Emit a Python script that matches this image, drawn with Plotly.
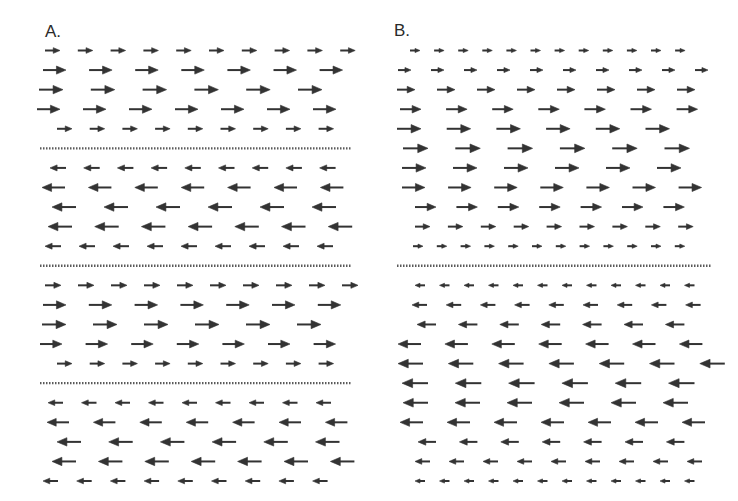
import plotly.graph_objects as go

# panel A: four channels of 5 rows, dotted walls between them
a_rows = [1, 2, 3, 4, 5, 7, 8, 9, 10, 11, 13, 14, 15, 16, 17, 19, 20, 21, 22, 23]
a_speed = [15, 23, 24, 23, 15, -16, -23, -24, -24, -16,
           16, 23, 24, 22, 15, -15, -22, -24, -24, -15]
a_count = [10, 7, 6, 7, 9, 9, 7, 6, 7, 9, 10, 7, 6, 7, 9, 9, 7, 6, 7, 9]
a_first = [45, 43, 39, 37, 57, 50, 42, 52, 48, 45,
           45, 43, 42, 40, 57, 48, 47, 57, 52, 43]
a_step = [32.8, 46.1, 51.8, 46.0, 32.7, 33.7, 46.4, 52.0, 46.7, 34.0,
          33.0, 45.8, 51.0, 45.6, 32.7, 33.5, 46.4, 51.7, 46.4, 33.7]
a_walls = [6, 12, 18]

# panel B: two channels of 11 rows
b_rows = [1, 2, 3, 4, 5, 6, 7, 8, 9, 10, 11,
          13, 14, 15, 16, 17, 18, 19, 20, 21, 22, 23]
b_speed = [10, 13, 18, 21, 24, 25, 24, 23, 21, 15, 10,
           -10, -15, -19, -23, -25, -26, -25, -23, -18, -15, -10]
b_count = [12, 10, 8, 7, 6, 6, 6, 7, 7, 9, 12,
           12, 9, 7, 7, 7, 6, 6, 7, 7, 9, 12]
b_first = [410, 398, 397, 400, 397, 403, 402, 402, 415, 415, 413,
           415, 412, 417, 398, 398, 402, 403, 400, 418, 415, 415]
b_step = [24.1, 33.0, 40.0, 46.1, 49.7, 52.3, 51.0, 46.1, 41.4, 32.9, 23.8,
          24.5, 34.2, 41.4, 46.9, 50.3, 53.3, 52.0, 47.0, 41.4, 34.0, 24.5]
b_walls = [12]

a_span = [40, 351]
b_span = [397, 712]

ink = "#333333"
row_px = 19.57  # pixels per row, used to keep arrowheads in proportion
fig = go.Figure()


def add_field(rows, speed, count, first, step):
    sx, sy = [], []
    px, py = [], []
    for r, u, n, x0, dx in zip(rows, speed, count, first, step):
        L = abs(u)
        hl = 0.35 * L + 1.5
        hw = (0.15 * L + 0.6) / row_px
        for k in range(n):
            left = x0 + k * dx
            if u > 0:
                tip, base = left + L, left + L - hl
                sx += [left, base + 1, None]
            else:
                tip, base = left, left + hl
                sx += [base - 1, left + L, None]
            sy += [r, r, None]
            px += [tip, base, base, tip, None]
            py += [r, r - hw, r + hw, r, None]
    fig.add_trace(go.Scatter(x=sx, y=sy, mode="lines",
                             line=dict(color=ink, width=2),
                             hoverinfo="skip", showlegend=False))
    fig.add_trace(go.Scatter(x=px, y=py, mode="lines", fill="toself",
                             fillcolor=ink, line=dict(color=ink, width=0.6),
                             hoverinfo="skip", showlegend=False))


def add_walls(walls, span):
    for w in walls:
        fig.add_trace(go.Scatter(x=span, y=[w, w], mode="lines",
                                 line=dict(color="#5a5a5a", width=2.4, dash="1.5px,1.5px"),
                                 hoverinfo="skip", showlegend=False))


add_walls(a_walls, a_span)
add_walls(b_walls, b_span)
add_field(a_rows, a_speed, a_count, a_first, a_step)
add_field(b_rows, b_speed, b_count, b_first, b_step)

fig.add_annotation(x=43, y=0.05, text="A.", showarrow=False, xanchor="left",
                   font=dict(family="Liberation Sans, Arial", size=17, color="#2a2a2a"))
fig.add_annotation(x=392, y=0.0, text="B.", showarrow=False, xanchor="left",
                   font=dict(family="Liberation Sans, Arial", size=17, color="#2a2a2a"))

fig.update_xaxes(range=[8, 746], visible=False)
fig.update_yaxes(range=[24.43, -1.172], visible=False)
fig.update_layout(width=738, height=501, margin=dict(l=0, r=0, t=0, b=0),
                  plot_bgcolor="white", paper_bgcolor="white")
fig.write_html("out.html")
